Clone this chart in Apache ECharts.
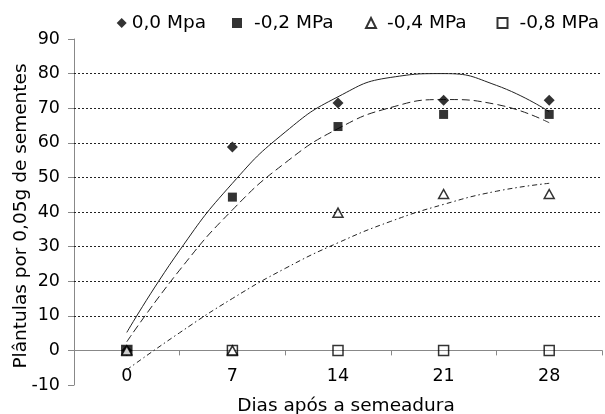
<!DOCTYPE html>
<html>
<head>
<meta charset="utf-8">
<script src="https://cdn.jsdelivr.net/npm/echarts@6/dist/echarts.min.js"></script>
<style>html,body{margin:0;padding:0;background:#fff}#c{width:605px;height:414px}</style>
</head>
<body>
<div id="c"></div>
<script>
// ---- data ----
var categories = ['0', '7', '14', '21', '28'];
var days = [0, 7, 14, 21, 28];
var seriesNames = ['0,0 Mpa', '-0,2 MPa', '-0,4 MPa', '-0,8 MPa'];
var obs00 = [0, 58.8, 71.5, 72.3, 72.3];
var obs02 = [0, 44.3, 64.7, 68.2, 68.2];
var obs04 = [0, 0, 39.8, 45.2, 45.2];
var obs08 = [0, 0, 0, 0, 0];
// trend lines
var trendDays = [0, 3.5, 7, 10.5, 14, 17.5, 21, 24.5, 28];
var trend00 = [5.2, 28.9, 48.3, 63.1, 73.3, 78.9, 80.0, 76.6, 69.0];
var trend02 = [2.5, 23.2, 40.6, 54.2, 64.1, 70.2, 72.5, 71.1, 65.8];
var trend04 = [-5.6, 5.1, 15.0, 23.7, 31.1, 37.3, 42.2, 46.0, 48.3];
var gridValues = [10, 20, 30, 40, 50, 60, 70, 80];

function pairs(xs, ys) { return xs.map(function (x, i) { return [x, ys[i]]; }); }

var FONT = 'DejaVu Sans';
// legend layout: icon centre x and extra gap before the text
var legendIconX = [121.7, 237, 370, 501.5];
var legendTextGap = [0, 7, 6, 7];

var chart = echarts.init(document.getElementById('c'), null, { renderer: 'canvas' });
var option = {
  animation: false,
  backgroundColor: '#ffffff',
  textStyle: { fontFamily: FONT, color: '#000' },
  grid: { left: 74, right: 3, top: 39, bottom: 29, containLabel: false, outerBoundsMode: 'none' },
  legend: seriesNames.map(function (n, i) {
    return {
      data: [n],
      left: legendIconX[i] - 5, top: 13.5, padding: 0,
      itemWidth: 10, itemHeight: 10,
      formatter: function (name) { return legendTextGap[i] > 0 ? '{g|}' + name : name; },
      textStyle: {
        fontFamily: FONT, fontSize: 18.5, color: '#000',
        rich: { g: { width: legendTextGap[i], fontSize: 18.5 } }
      }
    };
  }),
  xAxis: [{
    type: 'category',
    data: categories,
    boundaryGap: true,
    position: 'bottom',
    offset: -34.6,
    axisLine: { show: true, onZero: false, lineStyle: { color: '#888', width: 1 } },
    axisTick: { show: true, length: 5, lineStyle: { color: '#888' } },
    axisLabel: { margin: 17, fontFamily: FONT, fontSize: 17.5, color: '#000' },
    splitLine: { show: false },
    name: 'Dias após a semeadura',
    nameLocation: 'middle',
    nameGap: 46,
    nameMoveOverlap: false,
    nameTextStyle: { fontFamily: FONT, fontSize: 18.5, color: '#000', padding: [0, 0, 0, 16] }
  }, {
    type: 'value',
    show: false,
    min: -3.5, max: 31.5,
    axisLine: { onZero: false },
    splitLine: { show: false }
  }],
  yAxis: {
    type: 'value',
    min: -10, max: 90, interval: 10,
    axisLine: { show: true, onZero: false, lineStyle: { color: '#888', width: 1 } },
    axisTick: { show: true, length: 6, lineStyle: { color: '#888' } },
    axisLabel: { margin: 14, fontFamily: FONT, fontSize: 17.5, color: '#000' },
    splitLine: { show: false },
    name: 'Plântulas por 0,05g de sementes',
    nameLocation: 'middle',
    nameGap: 43,
    nameMoveOverlap: false,
    nameTextStyle: { fontFamily: FONT, fontSize: 18.5, color: '#000', padding: [0, 8, 0, 0] }
  },
  series: [
    {
      name: 'grid', type: 'line', xAxisIndex: 1, data: [], silent: true,
      markLine: {
        silent: true, symbol: 'none', label: { show: false },
        lineStyle: { color: '#222', type: [2, 2], width: 1 },
        data: gridValues.map(function (v) { return { yAxis: v }; })
      }
    },
    {
      name: 't00', type: 'line', xAxisIndex: 1, smooth: true, symbol: 'none', z: 2,
      lineStyle: { color: '#222', width: 1, type: 'solid' },
      data: pairs(trendDays, trend00)
    },
    {
      name: 't02', type: 'line', xAxisIndex: 1, smooth: true, symbol: 'none', z: 2,
      lineStyle: { color: '#222', width: 1, type: [8, 4] },
      data: pairs(trendDays, trend02)
    },
    {
      name: 't04', type: 'line', xAxisIndex: 1, smooth: true, symbol: 'none', z: 2,
      lineStyle: { color: '#222', width: 1, type: [5, 3, 1.5, 3] },
      data: pairs(trendDays, trend04)
    },
    {
      name: seriesNames[0], type: 'scatter', xAxisIndex: 1, symbol: 'diamond', symbolSize: 11, z: 3,
      itemStyle: { color: '#000' },
      data: pairs(days, obs00)
    },
    {
      name: seriesNames[1], type: 'scatter', xAxisIndex: 1, symbol: 'rect', symbolSize: 9, z: 4,
      itemStyle: { color: '#000' },
      data: pairs(days, obs02)
    },
    {
      name: seriesNames[2], type: 'scatter', xAxisIndex: 1, symbol: 'triangle', symbolSize: [10, 9], z: 5,
      itemStyle: { color: '#fff', borderColor: '#000', borderWidth: 1.5 },
      data: pairs(days, obs04)
    },
    {
      name: seriesNames[3], type: 'scatter', xAxisIndex: 1, symbol: 'rect', symbolSize: 10, z: 6,
      itemStyle: { color: 'rgba(0,0,0,0)', borderColor: '#000', borderWidth: 1.5 },
      data: pairs(days, obs08)
    }
  ]
};
chart.setOption(option);
</script>
</body>
</html>
